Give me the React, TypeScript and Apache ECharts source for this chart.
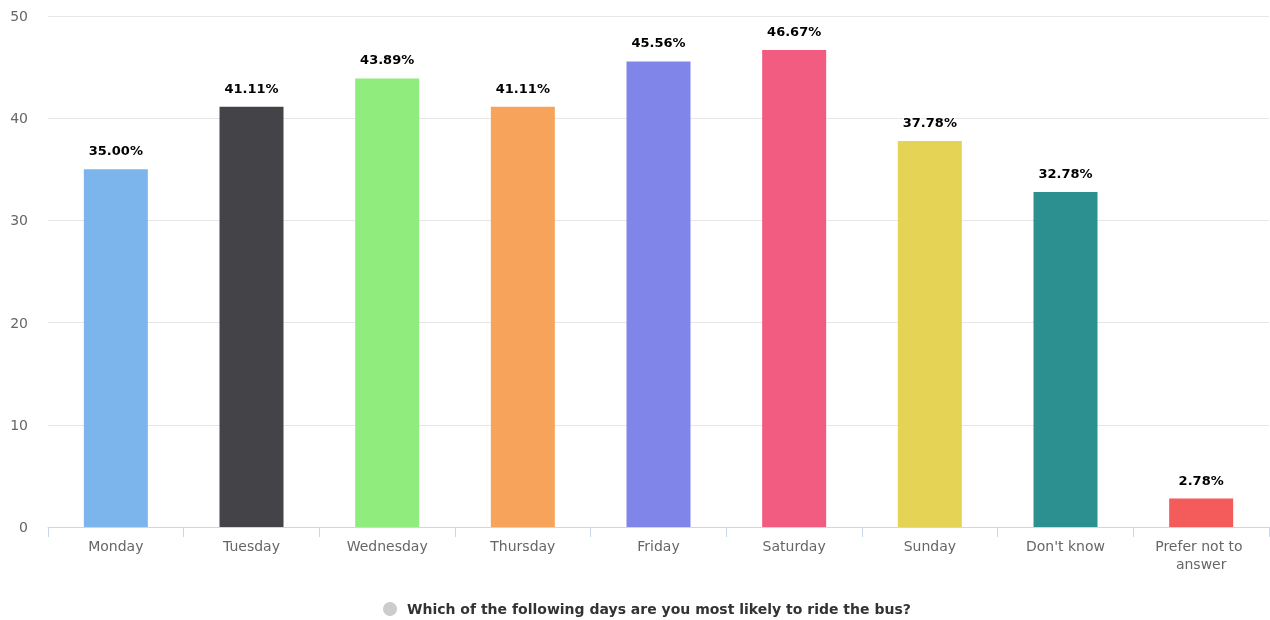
import React, { useEffect, useRef } from "react";
import * as echarts from "echarts";

const categories = ["Monday", "Tuesday", "Wednesday", "Thursday", "Friday", "Saturday", "Sunday", "Don't know", "Prefer not to answer"];
const values = [35.0, 41.11, 43.89, 41.11, 45.56, 46.67, 37.78, 32.78, 2.78];
const colors = ["#7cb5ec", "#434348", "#90ed7d", "#f7a35c", "#8085e9", "#f15c80", "#e4d354", "#2b908f", "#f45b5b"];
const seriesName = "Which of the following days are you most likely to ride the bus?";
const FONT = "DejaVu Sans, Verdana, sans-serif";

export default function App() {
  const ref = useRef<HTMLDivElement>(null);
  useEffect(() => {
    const chart = echarts.init(ref.current!, null, { renderer: "svg" });
    chart.setOption({
      animation: false,
      textStyle: { fontFamily: FONT },
      grid: { left: 48, right: 1, top: 16, bottom: 93, containLabel: false },
      legend: {
        top: 597,
        left: 378,
        icon: "circle",
        itemWidth: 14,
        itemHeight: 14,
        itemGap: 8,
        data: [{ name: seriesName, itemStyle: { color: "#cccccc" } }],
        textStyle: { fontFamily: FONT, fontSize: 14, fontWeight: "bold", color: "#333333", padding: [0, 0, 0, 5] },
        selectedMode: false,
      },
      xAxis: {
        type: "category",
        data: categories,
        axisLine: { lineStyle: { color: "#ccd6eb" } },
        axisTick: { show: true, length: 10, lineStyle: { color: "#ccd6eb" } },
        axisLabel: {
          color: "#666666",
          fontSize: 14,
          fontFamily: FONT,
          margin: 10,
          width: 115,
          overflow: "break",
          lineHeight: 18,
          interval: 0,
        },
      },
      yAxis: {
        type: "value",
        min: 0,
        max: 50,
        interval: 10,
        axisLine: { show: false },
        axisTick: { show: false },
        splitLine: { lineStyle: { color: "#e6e6e6" } },
        axisLabel: { color: "#666666", fontSize: 14, fontFamily: FONT, margin: 20 },
      },
      series: [
        {
          name: seriesName,
          type: "bar",
          barWidth: 64,
          itemStyle: { color: "#cccccc" },
          data: values.map((v, i) => ({ value: v, itemStyle: { color: colors[i] } })),
          label: {
            show: true,
            position: "top",
            distance: 12,
            fontFamily: FONT,
            fontSize: 13,
            fontWeight: "bold",
            color: "#000000",
            textBorderColor: "#ffffff",
            textBorderWidth: 2,
            formatter: (p: any) => p.value.toFixed(2) + "%",
          },
        },
      ],
    });
    return () => chart.dispose();
  }, []);
  return <div ref={ref} style={{ position: "fixed", left: 0, top: 0, width: 1270, height: 620 }} />;
}
